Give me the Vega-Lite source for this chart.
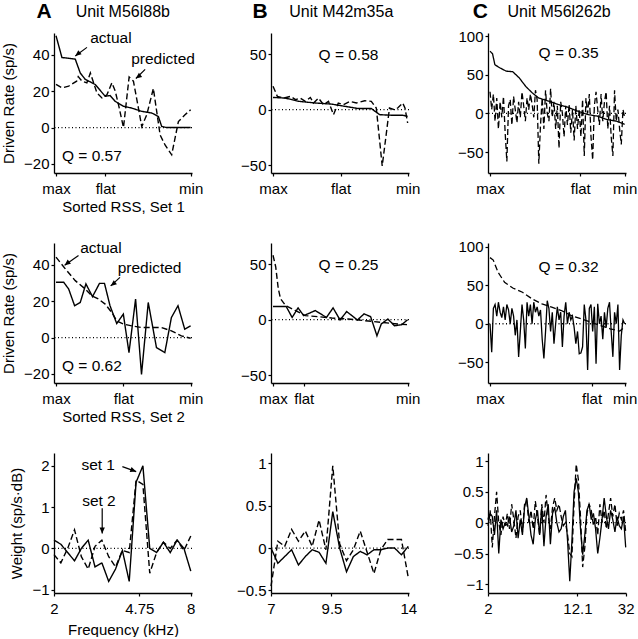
{
"$schema":"https://vega.github.io/schema/vega-lite/v6.json",
"padding":{"left":1,"top":0,"right":0,"bottom":0},
"bounds":"flush",
"columns":3,
"spacing":{"row":70,"column":79},
"config":{
 "font":"Liberation Sans",
 "view":{"stroke":null},
 "axis":{"grid":false,"domainColor":"#000","domainWidth":1.3,"tickColor":"#000","tickWidth":1.2,"tickSize":3,"labelColor":"#000","labelFontSize":15,"labelPadding":2,"titleColor":"#000","titleFontSize":15,"titleFontWeight":"normal","labelFont":"Liberation Sans","titleFont":"Liberation Sans","labelOverlap":false,"labelFlush":false},
 "axisX":{"labelPadding":5,"titlePadding":3},
 "axisY":{"titlePadding":7},
 "text":{"color":"#000","font":"Liberation Sans"},
 "line":{"color":"#000"},
 "rule":{"color":"#000"}
},
"datasets":{
 "a1":[{"r":0,"v":50.5,"s":"a"},{"r":4.4,"v":38.5,"s":"a"},{"r":10.6,"v":38,"s":"a"},{"r":14.3,"v":37.6,"s":"a"},{"r":18,"v":30,"s":"a"},{"r":21.7,"v":26.5,"s":"a"},{"r":29.1,"v":23.7,"s":"a"},{"r":36.5,"v":17.2,"s":"a"},{"r":40.2,"v":17.6,"s":"a"},{"r":44,"v":14.4,"s":"a"},{"r":50.1,"v":11.7,"s":"a"},{"r":56.3,"v":10.7,"s":"a"},{"r":63.7,"v":8.9,"s":"a"},{"r":71.1,"v":8,"s":"a"},{"r":76,"v":6.1,"s":"a"},{"r":78.5,"v":0.6,"s":"a"},{"r":82.2,"v":0,"s":"a"},{"r":100,"v":0,"s":"a"},
  {"r":0,"v":23.7,"s":"b"},{"r":4.4,"v":21.8,"s":"b"},{"r":9.4,"v":22.8,"s":"b"},{"r":15.3,"v":25.5,"s":"b"},{"r":16.5,"v":28,"s":"b"},{"r":19.3,"v":25.5,"s":"b"},{"r":22.9,"v":24.6,"s":"b"},{"r":25.5,"v":30,"s":"b"},{"r":30.4,"v":19,"s":"b"},{"r":34.1,"v":16.3,"s":"b"},{"r":37.8,"v":18,"s":"b"},{"r":41.5,"v":24.6,"s":"b"},{"r":44,"v":20,"s":"b"},{"r":46.4,"v":12.6,"s":"b"},{"r":50.1,"v":0,"s":"b"},{"r":54.3,"v":27.8,"s":"b"},{"r":57.5,"v":25.5,"s":"b"},{"r":61.2,"v":10.7,"s":"b"},{"r":63.7,"v":0.5,"s":"b"},{"r":67.4,"v":7,"s":"b"},{"r":72.3,"v":21.5,"s":"b"},{"r":77.3,"v":-4,"s":"b"},{"r":81,"v":-9.6,"s":"b"},{"r":85.9,"v":-15,"s":"b"},{"r":90.9,"v":3.3,"s":"b"},{"r":95.8,"v":7,"s":"b"},{"r":100,"v":9.8,"s":"b"}],
 "a1t":[{"r":25.4,"v":49,"t":"actual"},{"r":55.8,"v":37.6,"t":"predicted"},{"r":4.4,"v":-15.6,"t":"Q = 0.57"}],
 "a1r":[{"r":23,"v":44.1,"r2":14.3,"v2":39.4},{"r":66.2,"v":32,"r2":59.3,"v2":27}],
 "b1":[{"r":0,"v":11,"s":"a"},{"r":9.3,"v":10.4,"s":"a"},{"r":19.1,"v":7.5,"s":"a"},{"r":31.4,"v":6,"s":"a"},{"r":43.6,"v":5,"s":"a"},{"r":53.4,"v":3,"s":"a"},{"r":63.2,"v":1,"s":"a"},{"r":73,"v":1,"s":"a"},{"r":79.2,"v":-4.5,"s":"a"},{"r":87.7,"v":-5,"s":"a"},{"r":96.3,"v":-5,"s":"a"},{"r":100,"v":-6,"s":"a"},
  {"r":0,"v":21,"s":"b"},{"r":3.2,"v":12,"s":"b"},{"r":8.1,"v":10.4,"s":"b"},{"r":13,"v":12,"s":"b"},{"r":16.7,"v":9,"s":"b"},{"r":20.3,"v":10.4,"s":"b"},{"r":24,"v":7.5,"s":"b"},{"r":27.7,"v":11,"s":"b"},{"r":30.1,"v":6,"s":"b"},{"r":33.8,"v":10.4,"s":"b"},{"r":37.5,"v":4.5,"s":"b"},{"r":41.2,"v":7.5,"s":"b"},{"r":44.9,"v":-4.5,"s":"b"},{"r":48.5,"v":6,"s":"b"},{"r":52.2,"v":4.5,"s":"b"},{"r":57.1,"v":7.5,"s":"b"},{"r":62,"v":6,"s":"b"},{"r":68.1,"v":8,"s":"b"},{"r":73,"v":7.5,"s":"b"},{"r":76.7,"v":1.5,"s":"b"},{"r":79.2,"v":-28,"s":"b"},{"r":81.1,"v":-50.7,"s":"b"},{"r":84.1,"v":-22,"s":"b"},{"r":86.5,"v":1.5,"s":"b"},{"r":90.2,"v":0,"s":"b"},{"r":92.6,"v":1.5,"s":"b"},{"r":96.3,"v":6,"s":"b"},{"r":98,"v":1.5,"s":"b"},{"r":100,"v":-12,"s":"b"}],
 "c1":[{"r":0,"v":80.6,"s":"a"},{"r":1.9,"v":77,"s":"a"},{"r":3.6,"v":63,"s":"a"},{"r":7.2,"v":59,"s":"a"},{"r":12,"v":54.7,"s":"a"},{"r":16.9,"v":53.9,"s":"a"},{"r":21.7,"v":46,"s":"a"},{"r":26.5,"v":35,"s":"a"},{"r":31.3,"v":26.7,"s":"a"},{"r":36.1,"v":20,"s":"a"},{"r":43.4,"v":16,"s":"a"},{"r":50.6,"v":11.6,"s":"a"},{"r":57.8,"v":8,"s":"a"},{"r":65.1,"v":3,"s":"a"},{"r":72.3,"v":-1.3,"s":"a"},{"r":79.5,"v":-3.4,"s":"a"},{"r":86.7,"v":-7.8,"s":"a"},{"r":94,"v":-10,"s":"a"},{"r":100,"v":-14,"s":"a"},
  {"r":0,"v":28,"s":"b"},{"r":1.25,"v":5,"s":"b"},{"r":2.5,"v":25,"s":"b"},{"r":3.75,"v":-10,"s":"b"},{"r":5,"v":20,"s":"b"},{"r":6.25,"v":-20,"s":"b"},{"r":7.5,"v":15,"s":"b"},{"r":8.75,"v":-5,"s":"b"},{"r":10,"v":22,"s":"b"},{"r":11.25,"v":-25,"s":"b"},{"r":12.5,"v":-62,"s":"b"},{"r":13.75,"v":10,"s":"b"},{"r":15,"v":18,"s":"b"},{"r":16.25,"v":-15,"s":"b"},{"r":17.5,"v":22,"s":"b"},{"r":18.75,"v":5,"s":"b"},{"r":20,"v":-12,"s":"b"},{"r":21.25,"v":15,"s":"b"},{"r":22.5,"v":-5,"s":"b"},{"r":23.75,"v":28,"s":"b"},{"r":25,"v":10,"s":"b"},{"r":26.25,"v":-10,"s":"b"},{"r":27.5,"v":20,"s":"b"},{"r":28.75,"v":5,"s":"b"},{"r":30,"v":25,"s":"b"},{"r":31.25,"v":12,"s":"b"},{"r":32.5,"v":-5,"s":"b"},{"r":33.75,"v":30,"s":"b"},{"r":35,"v":18,"s":"b"},{"r":36.25,"v":-65,"s":"b"},{"r":37.5,"v":-15,"s":"b"},{"r":38.75,"v":20,"s":"b"},{"r":40,"v":-20,"s":"b"},{"r":41.25,"v":30,"s":"b"},{"r":42.5,"v":0,"s":"b"},{"r":43.75,"v":-10,"s":"b"},{"r":45,"v":32,"s":"b"},{"r":46.25,"v":-5,"s":"b"},{"r":47.5,"v":15,"s":"b"},{"r":48.75,"v":-20,"s":"b"},{"r":50,"v":10,"s":"b"},{"r":51.25,"v":-45,"s":"b"},{"r":52.5,"v":15,"s":"b"},{"r":53.75,"v":0,"s":"b"},{"r":55,"v":-30,"s":"b"},{"r":56.25,"v":10,"s":"b"},{"r":57.5,"v":-15,"s":"b"},{"r":58.75,"v":12,"s":"b"},{"r":60,"v":-25,"s":"b"},{"r":61.25,"v":5,"s":"b"},{"r":62.5,"v":-35,"s":"b"},{"r":63.75,"v":10,"s":"b"},{"r":65,"v":-20,"s":"b"},{"r":66.25,"v":5,"s":"b"},{"r":67.5,"v":-30,"s":"b"},{"r":68.75,"v":18,"s":"b"},{"r":70,"v":-55,"s":"b"},{"r":71.25,"v":20,"s":"b"},{"r":72.5,"v":0,"s":"b"},{"r":73.75,"v":25,"s":"b"},{"r":75,"v":-30,"s":"b"},{"r":76.25,"v":-60,"s":"b"},{"r":77.5,"v":10,"s":"b"},{"r":78.75,"v":28,"s":"b"},{"r":80,"v":5,"s":"b"},{"r":81.25,"v":-15,"s":"b"},{"r":82.5,"v":25,"s":"b"},{"r":83.75,"v":-10,"s":"b"},{"r":85,"v":15,"s":"b"},{"r":86.25,"v":28,"s":"b"},{"r":87.5,"v":-20,"s":"b"},{"r":88.75,"v":10,"s":"b"},{"r":90,"v":-30,"s":"b"},{"r":91.25,"v":-55,"s":"b"},{"r":92.5,"v":30,"s":"b"},{"r":93.75,"v":-10,"s":"b"},{"r":95,"v":5,"s":"b"},{"r":96.25,"v":-20,"s":"b"},{"r":97.5,"v":-40,"s":"b"},{"r":98.75,"v":5,"s":"b"},{"r":100,"v":-5,"s":"b"}],
 "a2":[{"r":0,"v":44.2,"s":"b"},{"r":6.9,"v":37.8,"s":"b"},{"r":14.3,"v":31.3,"s":"b"},{"r":21.7,"v":26.7,"s":"b"},{"r":26.6,"v":23,"s":"b"},{"r":31.5,"v":21.2,"s":"b"},{"r":36.5,"v":18.4,"s":"b"},{"r":41.4,"v":13.8,"s":"b"},{"r":45.1,"v":9.2,"s":"b"},{"r":50,"v":7.4,"s":"b"},{"r":56.2,"v":6.4,"s":"b"},{"r":63.5,"v":5.5,"s":"b"},{"r":70.9,"v":5.5,"s":"b"},{"r":78.3,"v":5.5,"s":"b"},{"r":85.7,"v":3.7,"s":"b"},{"r":93.1,"v":0.9,"s":"b"},{"r":100,"v":-0.4,"s":"b"},
  {"r":0,"v":30.4,"s":"a"},{"r":5.7,"v":30.4,"s":"a"},{"r":9.4,"v":26.7,"s":"a"},{"r":13.8,"v":17.5,"s":"a"},{"r":18,"v":19.3,"s":"a"},{"r":22.2,"v":29.5,"s":"a"},{"r":27.1,"v":22.5,"s":"a"},{"r":32.3,"v":29.8,"s":"a"},{"r":36,"v":29.8,"s":"a"},{"r":40.1,"v":17.5,"s":"a"},{"r":45.1,"v":7.7,"s":"a"},{"r":50,"v":12.9,"s":"a"},{"r":54.2,"v":-8.3,"s":"a"},{"r":59.1,"v":21.2,"s":"a"},{"r":63.5,"v":-20.3,"s":"a"},{"r":68.5,"v":19.3,"s":"a"},{"r":74.6,"v":-5.5,"s":"a"},{"r":80.8,"v":-8.3,"s":"a"},{"r":85.7,"v":11,"s":"a"},{"r":90.6,"v":17.5,"s":"a"},{"r":95.6,"v":4.6,"s":"a"},{"r":100,"v":6.4,"s":"a"}],
 "a2t":[{"r":18,"v":49.4,"t":"actual"},{"r":45.8,"v":38.3,"t":"predicted"},{"r":4.4,"v":-15.6,"t":"Q = 0.62"}],
 "a2r":[{"r":16.7,"v":45.1,"r2":6.4,"v2":39.8},{"r":47.5,"v":33.1,"r2":40.6,"v2":28.4}],
 "b2":[{"r":0,"v":58,"s":"b"},{"r":2,"v":47.6,"s":"b"},{"r":3.9,"v":27.9,"s":"b"},{"r":5.6,"v":18.8,"s":"b"},{"r":9.3,"v":12.7,"s":"b"},{"r":16.7,"v":8.2,"s":"b"},{"r":24,"v":3.6,"s":"b"},{"r":33.8,"v":2.7,"s":"b"},{"r":43.6,"v":1.5,"s":"b"},{"r":55.9,"v":0.6,"s":"b"},{"r":68.1,"v":-0.9,"s":"b"},{"r":80.4,"v":-2.4,"s":"b"},{"r":92.6,"v":-3.9,"s":"b"},{"r":100,"v":-4.5,"s":"b"},
  {"r":0,"v":11.8,"s":"a"},{"r":9.8,"v":11.8,"s":"a"},{"r":14.2,"v":2,"s":"a"},{"r":18.6,"v":10.6,"s":"a"},{"r":22.8,"v":3.6,"s":"a"},{"r":31.4,"v":8.2,"s":"a"},{"r":39.7,"v":2,"s":"a"},{"r":44.6,"v":10.6,"s":"a"},{"r":49.8,"v":-0.3,"s":"a"},{"r":54.7,"v":7.3,"s":"a"},{"r":62.7,"v":-0.3,"s":"a"},{"r":67.6,"v":5.2,"s":"a"},{"r":72.5,"v":2.7,"s":"a"},{"r":77.2,"v":-14.5,"s":"a"},{"r":80.4,"v":-3.9,"s":"a"},{"r":85.3,"v":0.6,"s":"a"},{"r":90.2,"v":-5.5,"s":"a"},{"r":95.6,"v":-4.5,"s":"a"},{"r":100,"v":0,"s":"a"}],
 "c2":[{"r":0,"v":86,"s":"b"},{"r":2.4,"v":82.8,"s":"b"},{"r":6,"v":66.8,"s":"b"},{"r":10.8,"v":54,"s":"b"},{"r":16.9,"v":46.5,"s":"b"},{"r":24.1,"v":41,"s":"b"},{"r":31.3,"v":32.3,"s":"b"},{"r":38.6,"v":25.9,"s":"b"},{"r":45.8,"v":21.6,"s":"b"},{"r":53,"v":17.2,"s":"b"},{"r":60.2,"v":10.8,"s":"b"},{"r":67.5,"v":6.5,"s":"b"},{"r":74.7,"v":2.2,"s":"b"},{"r":81.9,"v":-2.2,"s":"b"},{"r":89.2,"v":-6.5,"s":"b"},{"r":96.4,"v":-9.5,"s":"b"},{"r":100,"v":-4.3,"s":"b"},
  {"r":0,"v":0,"s":"a"},{"r":1.25,"v":-37,"s":"a"},{"r":2.5,"v":20,"s":"a"},{"r":3.75,"v":25,"s":"a"},{"r":5,"v":10,"s":"a"},{"r":6.25,"v":28,"s":"a"},{"r":7.5,"v":15,"s":"a"},{"r":8.75,"v":8,"s":"a"},{"r":10,"v":22,"s":"a"},{"r":11.25,"v":5,"s":"a"},{"r":12.5,"v":25,"s":"a"},{"r":13.75,"v":18,"s":"a"},{"r":15,"v":0,"s":"a"},{"r":16.25,"v":20,"s":"a"},{"r":17.5,"v":10,"s":"a"},{"r":18.75,"v":-15,"s":"a"},{"r":20,"v":5,"s":"a"},{"r":21.25,"v":-43,"s":"a"},{"r":22.5,"v":-10,"s":"a"},{"r":23.75,"v":25,"s":"a"},{"r":25,"v":5,"s":"a"},{"r":26.25,"v":-32,"s":"a"},{"r":27.5,"v":28,"s":"a"},{"r":28.75,"v":10,"s":"a"},{"r":30,"v":25,"s":"a"},{"r":31.25,"v":0,"s":"a"},{"r":32.5,"v":28,"s":"a"},{"r":33.75,"v":15,"s":"a"},{"r":35,"v":22,"s":"a"},{"r":36.25,"v":10,"s":"a"},{"r":37.5,"v":18,"s":"a"},{"r":38.75,"v":-20,"s":"a"},{"r":40,"v":-45,"s":"a"},{"r":41.25,"v":-10,"s":"a"},{"r":42.5,"v":30,"s":"a"},{"r":43.75,"v":20,"s":"a"},{"r":45,"v":-10,"s":"a"},{"r":46.25,"v":15,"s":"a"},{"r":47.5,"v":-26,"s":"a"},{"r":48.75,"v":0,"s":"a"},{"r":50,"v":22,"s":"a"},{"r":51.25,"v":5,"s":"a"},{"r":52.5,"v":15,"s":"a"},{"r":53.75,"v":-30,"s":"a"},{"r":55,"v":10,"s":"a"},{"r":56.25,"v":28,"s":"a"},{"r":57.5,"v":0,"s":"a"},{"r":58.75,"v":15,"s":"a"},{"r":60,"v":5,"s":"a"},{"r":61.25,"v":10,"s":"a"},{"r":62.5,"v":-5,"s":"a"},{"r":63.75,"v":-26,"s":"a"},{"r":65,"v":-10,"s":"a"},{"r":66.25,"v":-39,"s":"a"},{"r":67.5,"v":-38,"s":"a"},{"r":68.75,"v":-30,"s":"a"},{"r":70,"v":25,"s":"a"},{"r":71.25,"v":5,"s":"a"},{"r":72.5,"v":-60,"s":"a"},{"r":73.75,"v":20,"s":"a"},{"r":75,"v":25,"s":"a"},{"r":76.25,"v":-10,"s":"a"},{"r":77.5,"v":22,"s":"a"},{"r":78.75,"v":-52,"s":"a"},{"r":80,"v":26,"s":"a"},{"r":81.25,"v":0,"s":"a"},{"r":82.5,"v":10,"s":"a"},{"r":83.75,"v":-20,"s":"a"},{"r":85,"v":15,"s":"a"},{"r":86.25,"v":-5,"s":"a"},{"r":87.5,"v":20,"s":"a"},{"r":88.75,"v":28,"s":"a"},{"r":90,"v":-10,"s":"a"},{"r":91.25,"v":-43,"s":"a"},{"r":92.5,"v":15,"s":"a"},{"r":93.75,"v":0,"s":"a"},{"r":95,"v":25,"s":"a"},{"r":96.25,"v":-60,"s":"a"},{"r":97.5,"v":-15,"s":"a"},{"r":98.75,"v":5,"s":"a"},{"r":100,"v":0,"s":"a"}],
 "a3":[{"f":2,"v":0.2,"s":"a"},{"f":2.1435,"v":0.1,"s":"a"},{"f":2.2974,"v":-0.1,"s":"a"},{"f":2.4623,"v":-0.3,"s":"a"},{"f":2.639,"v":0,"s":"a"},{"f":2.8284,"v":0.2,"s":"a"},{"f":3.0314,"v":-0.45,"s":"a"},{"f":3.249,"v":-0.35,"s":"a"},{"f":3.4822,"v":-0.8,"s":"a"},{"f":3.7321,"v":-0.5,"s":"a"},{"f":4,"v":-0.05,"s":"a"},{"f":4.2871,"v":-0.8,"s":"a"},{"f":4.5948,"v":1.6,"s":"a"},{"f":4.9246,"v":2,"s":"a"},{"f":5.278,"v":0,"s":"a"},{"f":5.6569,"v":-0.1,"s":"a"},{"f":6.0629,"v":0.15,"s":"a"},{"f":6.498,"v":-0.1,"s":"a"},{"f":6.9644,"v":0.2,"s":"a"},{"f":7.4643,"v":0,"s":"a"},{"f":8,"v":-0.55,"s":"a"},
  {"f":2,"v":-0.15,"s":"b"},{"f":2.1435,"v":-0.35,"s":"b"},{"f":2.2974,"v":0,"s":"b"},{"f":2.4623,"v":0.45,"s":"b"},{"f":2.639,"v":-0.2,"s":"b"},{"f":2.8284,"v":-0.5,"s":"b"},{"f":3.0314,"v":0.05,"s":"b"},{"f":3.249,"v":0.2,"s":"b"},{"f":3.4822,"v":-0.2,"s":"b"},{"f":3.7321,"v":-0.45,"s":"b"},{"f":4,"v":-0.05,"s":"b"},{"f":4.2871,"v":-0.1,"s":"b"},{"f":4.5948,"v":1.65,"s":"b"},{"f":4.9246,"v":1.55,"s":"b"},{"f":5.278,"v":-0.6,"s":"b"},{"f":5.6569,"v":-0.1,"s":"b"},{"f":6.0629,"v":0.15,"s":"b"},{"f":6.498,"v":0,"s":"b"},{"f":6.9644,"v":0.2,"s":"b"},{"f":7.4643,"v":-0.05,"s":"b"},{"f":8,"v":0.3,"s":"b"}],
 "a3t":[{"f":2.64,"v":2.02,"t":"set 1"},{"f":2.66,"v":1.14,"t":"set 2"}],
 "b3":[{"f":7,"v":0,"s":"a"},{"f":7.2468,"v":-0.18,"s":"a"},{"f":7.5024,"v":-0.1,"s":"a"},{"f":7.767,"v":-0.02,"s":"a"},{"f":8.0409,"v":-0.2,"s":"a"},{"f":8.3245,"v":-0.1,"s":"a"},{"f":8.618,"v":-0.02,"s":"a"},{"f":8.9219,"v":-0.05,"s":"a"},{"f":9.2366,"v":-0.18,"s":"a"},{"f":9.5623,"v":0.43,"s":"a"},{"f":9.8995,"v":0,"s":"a"},{"f":10.2486,"v":-0.28,"s":"a"},{"f":10.61,"v":-0.1,"s":"a"},{"f":10.984,"v":-0.04,"s":"a"},{"f":11.3715,"v":-0.08,"s":"a"},{"f":11.7725,"v":-0.02,"s":"a"},{"f":12.1877,"v":-0.02,"s":"a"},{"f":12.6175,"v":0,"s":"a"},{"f":13.0625,"v":0,"s":"a"},{"f":13.5231,"v":-0.08,"s":"a"},{"f":14,"v":0.02,"s":"a"},
  {"f":7,"v":-0.45,"s":"b"},{"f":7.2468,"v":0.08,"s":"b"},{"f":7.5024,"v":0.02,"s":"b"},{"f":7.767,"v":0.22,"s":"b"},{"f":8.0409,"v":0.08,"s":"b"},{"f":8.3245,"v":0.2,"s":"b"},{"f":8.618,"v":0.02,"s":"b"},{"f":8.9219,"v":0.33,"s":"b"},{"f":9.2366,"v":-0.02,"s":"b"},{"f":9.5623,"v":0.97,"s":"b"},{"f":9.8995,"v":0.05,"s":"b"},{"f":10.2486,"v":-0.15,"s":"b"},{"f":10.61,"v":-0.02,"s":"b"},{"f":10.984,"v":0.2,"s":"b"},{"f":11.3715,"v":-0.05,"s":"b"},{"f":11.7725,"v":-0.3,"s":"b"},{"f":12.1877,"v":-0.02,"s":"b"},{"f":12.6175,"v":0.1,"s":"b"},{"f":13.0625,"v":0.1,"s":"b"},{"f":13.5231,"v":0.1,"s":"b"},{"f":14,"v":-0.35,"s":"b"}],
 "c3":[{"f":2,"v":-0.05,"s":"a"},{"f":2.0885,"v":0.15,"s":"a"},{"f":2.181,"v":0.1,"s":"a"},{"f":2.2776,"v":-0.2,"s":"a"},{"f":2.3784,"v":0.2,"s":"a"},{"f":2.4837,"v":-0.5,"s":"a"},{"f":2.5937,"v":0.05,"s":"a"},{"f":2.7085,"v":-0.1,"s":"a"},{"f":2.8284,"v":0,"s":"a"},{"f":2.9537,"v":-0.05,"s":"a"},{"f":3.0844,"v":0.1,"s":"a"},{"f":3.221,"v":-0.15,"s":"a"},{"f":3.3636,"v":-0.05,"s":"a"},{"f":3.5125,"v":0.2,"s":"a"},{"f":3.668,"v":-0.25,"s":"a"},{"f":3.8304,"v":0.05,"s":"a"},{"f":4,"v":-0.2,"s":"a"},{"f":4.1771,"v":0.25,"s":"a"},{"f":4.362,"v":0.4,"s":"a"},{"f":4.5552,"v":0.1,"s":"a"},{"f":4.7568,"v":-0.2,"s":"a"},{"f":4.9674,"v":-0.35,"s":"a"},{"f":5.1874,"v":0.05,"s":"a"},{"f":5.417,"v":0.2,"s":"a"},{"f":5.6569,"v":-0.2,"s":"a"},{"f":5.9073,"v":0.25,"s":"a"},{"f":6.1688,"v":-0.38,"s":"a"},{"f":6.442,"v":0.1,"s":"a"},{"f":6.7272,"v":0.3,"s":"a"},{"f":7.025,"v":-0.35,"s":"a"},{"f":7.336,"v":0.15,"s":"a"},{"f":7.6608,"v":0.25,"s":"a"},{"f":8,"v":0,"s":"a"},{"f":8.3542,"v":-0.15,"s":"a"},{"f":8.7241,"v":-0.1,"s":"a"},{"f":9.1103,"v":0.1,"s":"a"},{"f":9.5137,"v":0.2,"s":"a"},{"f":9.9349,"v":-0.3,"s":"a"},{"f":10.3747,"v":-0.95,"s":"a"},{"f":10.8341,"v":-0.3,"s":"a"},{"f":11.3137,"v":0.5,"s":"a"},{"f":11.8146,"v":0.72,"s":"a"},{"f":12.3377,"v":0.5,"s":"a"},{"f":12.8839,"v":-0.1,"s":"a"},{"f":13.4543,"v":-0.52,"s":"a"},{"f":14.05,"v":-0.2,"s":"a"},{"f":14.672,"v":0.2,"s":"a"},{"f":15.3216,"v":0.3,"s":"a"},{"f":16,"v":0.05,"s":"a"},{"f":16.708,"v":0.15,"s":"a"},{"f":17.448,"v":-0.1,"s":"a"},{"f":18.221,"v":-0.5,"s":"a"},{"f":19.027,"v":-0.25,"s":"a"},{"f":19.87,"v":0.05,"s":"a"},{"f":20.749,"v":0.4,"s":"a"},{"f":21.668,"v":0.1,"s":"a"},{"f":22.627,"v":-0.1,"s":"a"},{"f":23.629,"v":0.2,"s":"a"},{"f":24.675,"v":0.05,"s":"a"},{"f":25.768,"v":-0.15,"s":"a"},{"f":26.909,"v":0.1,"s":"a"},{"f":28.1,"v":-0.05,"s":"a"},{"f":29.344,"v":-0.1,"s":"a"},{"f":30.643,"v":0.1,"s":"a"},{"f":32,"v":-0.4,"s":"a"},
  {"f":2,"v":0.05,"s":"b"},{"f":2.0885,"v":0.2,"s":"b"},{"f":2.181,"v":-0.4,"s":"b"},{"f":2.2776,"v":0.1,"s":"b"},{"f":2.3784,"v":0.5,"s":"b"},{"f":2.4837,"v":0,"s":"b"},{"f":2.5937,"v":-0.2,"s":"b"},{"f":2.7085,"v":0.1,"s":"b"},{"f":2.8284,"v":-0.05,"s":"b"},{"f":2.9537,"v":0.15,"s":"b"},{"f":3.0844,"v":-0.1,"s":"b"},{"f":3.221,"v":0.3,"s":"b"},{"f":3.3636,"v":0.05,"s":"b"},{"f":3.5125,"v":-0.25,"s":"b"},{"f":3.668,"v":0.1,"s":"b"},{"f":3.8304,"v":0.2,"s":"b"},{"f":4,"v":-0.15,"s":"b"},{"f":4.1771,"v":0.3,"s":"b"},{"f":4.362,"v":0.35,"s":"b"},{"f":4.5552,"v":0,"s":"b"},{"f":4.7568,"v":0.2,"s":"b"},{"f":4.9674,"v":-0.1,"s":"b"},{"f":5.1874,"v":0.35,"s":"b"},{"f":5.417,"v":0.1,"s":"b"},{"f":5.6569,"v":-0.2,"s":"b"},{"f":5.9073,"v":0.3,"s":"b"},{"f":6.1688,"v":0,"s":"b"},{"f":6.442,"v":0.45,"s":"b"},{"f":6.7272,"v":0.1,"s":"b"},{"f":7.025,"v":-0.1,"s":"b"},{"f":7.336,"v":0.25,"s":"b"},{"f":7.6608,"v":0.4,"s":"b"},{"f":8,"v":0.2,"s":"b"},{"f":8.3542,"v":0.3,"s":"b"},{"f":8.7241,"v":0.1,"s":"b"},{"f":9.1103,"v":-0.05,"s":"b"},{"f":9.5137,"v":0,"s":"b"},{"f":9.9349,"v":-0.2,"s":"b"},{"f":10.3747,"v":-0.5,"s":"b"},{"f":10.8341,"v":-0.55,"s":"b"},{"f":11.3137,"v":0.3,"s":"b"},{"f":11.8146,"v":0.95,"s":"b"},{"f":12.3377,"v":0.7,"s":"b"},{"f":12.8839,"v":0.1,"s":"b"},{"f":13.4543,"v":-0.72,"s":"b"},{"f":14.05,"v":-0.4,"s":"b"},{"f":14.672,"v":0.15,"s":"b"},{"f":15.3216,"v":0.3,"s":"b"},{"f":16,"v":0.2,"s":"b"},{"f":16.708,"v":-0.05,"s":"b"},{"f":17.448,"v":0.1,"s":"b"},{"f":18.221,"v":-0.2,"s":"b"},{"f":19.027,"v":0.3,"s":"b"},{"f":19.87,"v":0,"s":"b"},{"f":20.749,"v":0.2,"s":"b"},{"f":21.668,"v":-0.1,"s":"b"},{"f":22.627,"v":0.15,"s":"b"},{"f":23.629,"v":0.4,"s":"b"},{"f":24.675,"v":0.1,"s":"b"},{"f":25.768,"v":0.3,"s":"b"},{"f":26.909,"v":-0.05,"s":"b"},{"f":28.1,"v":0.15,"s":"b"},{"f":29.344,"v":0.05,"s":"b"},{"f":30.643,"v":0.2,"s":"b"},{"f":32,"v":-0.15,"s":"b"}]
},
"concat":[
 {"width":138,"height":140,
  "layer":[
   {"data":{"values":[{}]},"mark":{"type":"rule","strokeDash":[1,2.5],"strokeWidth":1.3},"encoding":{"y":{"datum":0,"type":"quantitative","scale":{"domain":[-25,52],"nice":false,"zero":false},"axis":{"values":[-20,0,20,40],"format":"~r","title":"Driven Rate (sp/s)"}}}},
   {"data":{"name":"a1"},"mark":{"type":"line","strokeWidth":1.4},"encoding":{
     "x":{"field":"r","type":"quantitative","scale":{"domain":[-1.5,101],"nice":false,"zero":false},"axis":{"values":[0,36.5,100],"labelExpr":"datum.value == 0 ? 'max' : (datum.value == 100 ? 'min' : 'flat')","title":"Sorted RSS, Set 1"}},
     "y":{"field":"v","type":"quantitative","scale":{"domain":[-25,52],"nice":false,"zero":false},"axis":{"values":[-20,0,20,40],"format":"~r","title":"Driven Rate (sp/s)"}},
     "strokeDash":{"field":"s","type":"nominal","scale":{"domain":["a","b"],"range":[[1,0],[6,3]]},"legend":null}}},
   {"data":{"name":"a1t"},"mark":{"type":"text","align":"left","baseline":"middle","fontSize":15.5},"encoding":{
     "x":{"field":"r","type":"quantitative","axis":{"values":[0,36.5,100],"labelExpr":"datum.value == 0 ? 'max' : (datum.value == 100 ? 'min' : 'flat')","title":"Sorted RSS, Set 1"}},
     "y":{"field":"v","type":"quantitative","axis":{"values":[-20,0,20,40],"format":"~r","title":"Driven Rate (sp/s)"}},"text":{"field":"t"}}},
   {"data":{"values":[{"r":-8.9,"v":63.5,"t":"A"}]},"mark":{"type":"text","fontSize":21,"fontWeight":"bold","baseline":"middle"},"encoding":{
     "x":{"field":"r","type":"quantitative","axis":{"values":[0,36.5,100],"labelExpr":"datum.value == 0 ? 'max' : (datum.value == 100 ? 'min' : 'flat')","title":"Sorted RSS, Set 1"}},
     "y":{"field":"v","type":"quantitative","axis":{"values":[-20,0,20,40],"format":"~r","title":"Driven Rate (sp/s)"}},"text":{"field":"t"}}},
   {"data":{"values":[{"r":49.6,"v":63.5,"t":"Unit M56l88b"}]},"mark":{"type":"text","fontSize":16,"baseline":"middle"},"encoding":{
     "x":{"field":"r","type":"quantitative","axis":{"values":[0,36.5,100],"labelExpr":"datum.value == 0 ? 'max' : (datum.value == 100 ? 'min' : 'flat')","title":"Sorted RSS, Set 1"}},
     "y":{"field":"v","type":"quantitative","axis":{"values":[-20,0,20,40],"format":"~r","title":"Driven Rate (sp/s)"}},"text":{"field":"t"}}},
   {"data":{"name":"a1r"},"mark":{"type":"rule","strokeWidth":1.2},"encoding":{
     "x":{"field":"r","type":"quantitative","axis":{"values":[0,36.5,100],"labelExpr":"datum.value == 0 ? 'max' : (datum.value == 100 ? 'min' : 'flat')","title":"Sorted RSS, Set 1"}},
     "y":{"field":"v","type":"quantitative","axis":{"values":[-20,0,20,40],"format":"~r","title":"Driven Rate (sp/s)"}},"x2":{"field":"r2"},"y2":{"field":"v2"}}},
   {"data":{"name":"a1r"},"mark":{"type":"point","shape":"M0,0L-0.45,1L0.45,1Z","filled":true,"size":140,"opacity":1,"angle":232,"color":"#000"},"encoding":{
     "x":{"field":"r2","type":"quantitative","axis":{"values":[0,36.5,100],"labelExpr":"datum.value == 0 ? 'max' : (datum.value == 100 ? 'min' : 'flat')","title":"Sorted RSS, Set 1"}},
     "y":{"field":"v2","type":"quantitative","axis":{"values":[-20,0,20,40],"format":"~r","title":"Driven Rate (sp/s)"}}}}
  ]},
 {"width":138,"height":140,
  "layer":[
   {"data":{"values":[{}]},"mark":{"type":"rule","strokeDash":[1,2.5],"strokeWidth":1.3},"encoding":{"y":{"datum":0,"type":"quantitative","scale":{"domain":[-57,69],"nice":false,"zero":false},"axis":{"values":[-50,0,50],"format":"~r","title":null}}}},
   {"data":{"name":"b1"},"mark":{"type":"line","strokeWidth":1.4},"encoding":{
     "x":{"field":"r","type":"quantitative","scale":{"domain":[-1.5,101],"nice":false,"zero":false},"axis":{"values":[0,50.2,100],"labelExpr":"datum.value == 0 ? 'max' : (datum.value == 100 ? 'min' : 'flat')","title":null}},
     "y":{"field":"v","type":"quantitative","scale":{"domain":[-57,69],"nice":false,"zero":false},"axis":{"values":[-50,0,50],"format":"~r","title":null}},
     "strokeDash":{"field":"s","type":"nominal","scale":{"domain":["a","b"],"range":[[1,0],[6,3]]},"legend":null}}},
   {"data":{"values":[{"r":33.8,"v":49.3,"t":"Q = 0.58"}]},"mark":{"type":"text","align":"left","baseline":"middle","fontSize":15.5},"encoding":{
     "x":{"field":"r","type":"quantitative","axis":{"values":[0,50.2,100],"labelExpr":"datum.value == 0 ? 'max' : (datum.value == 100 ? 'min' : 'flat')","title":null}},
     "y":{"field":"v","type":"quantitative","axis":{"values":[-50,0,50],"format":"~r","title":null}},"text":{"field":"t"}}},
   {"data":{"values":[{"r":-9.6,"v":88,"t":"B"}]},"mark":{"type":"text","fontSize":21,"fontWeight":"bold","baseline":"middle"},"encoding":{
     "x":{"field":"r","type":"quantitative","axis":{"values":[0,50.2,100],"labelExpr":"datum.value == 0 ? 'max' : (datum.value == 100 ? 'min' : 'flat')","title":null}},
     "y":{"field":"v","type":"quantitative","axis":{"values":[-50,0,50],"format":"~r","title":null}},"text":{"field":"t"}}},
   {"data":{"values":[{"r":50.7,"v":88,"t":"Unit M42m35a"}]},"mark":{"type":"text","fontSize":16,"baseline":"middle"},"encoding":{
     "x":{"field":"r","type":"quantitative","axis":{"values":[0,50.2,100],"labelExpr":"datum.value == 0 ? 'max' : (datum.value == 100 ? 'min' : 'flat')","title":null}},
     "y":{"field":"v","type":"quantitative","axis":{"values":[-50,0,50],"format":"~r","title":null}},"text":{"field":"t"}}}
  ]},
 {"width":138,"height":140,
  "layer":[
   {"data":{"values":[{}]},"mark":{"type":"rule","strokeDash":[1,2.5],"strokeWidth":1.3},"encoding":{"y":{"datum":0,"type":"quantitative","scale":{"domain":[-77,104],"nice":false,"zero":false},"axis":{"values":[-50,0,50,100],"format":"~r","title":null}}}},
   {"data":{"name":"c1"},"mark":{"type":"line","strokeWidth":1.3},"encoding":{
     "x":{"field":"r","type":"quantitative","scale":{"domain":[-1.5,101],"nice":false,"zero":false},"axis":{"values":[0,67,100],"labelExpr":"datum.value == 0 ? 'max' : (datum.value == 100 ? 'min' : 'flat')","title":null}},
     "y":{"field":"v","type":"quantitative","scale":{"domain":[-77,104],"nice":false,"zero":false},"axis":{"values":[-50,0,50,100],"format":"~r","title":null}},
     "strokeDash":{"field":"s","type":"nominal","scale":{"domain":["a","b"],"range":[[1,0],[6,3]]},"legend":null}}},
   {"data":{"values":[{"r":36.1,"v":78.4,"t":"Q = 0.35"}]},"mark":{"type":"text","align":"left","baseline":"middle","fontSize":15.5},"encoding":{
     "x":{"field":"r","type":"quantitative","axis":{"values":[0,67,100],"labelExpr":"datum.value == 0 ? 'max' : (datum.value == 100 ? 'min' : 'flat')","title":null}},
     "y":{"field":"v","type":"quantitative","axis":{"values":[-50,0,50,100],"format":"~r","title":null}},"text":{"field":"t"}}},
   {"data":{"values":[{"r":-7.2,"v":131,"t":"C"}]},"mark":{"type":"text","fontSize":21,"fontWeight":"bold","baseline":"middle"},"encoding":{
     "x":{"field":"r","type":"quantitative","axis":{"values":[0,67,100],"labelExpr":"datum.value == 0 ? 'max' : (datum.value == 100 ? 'min' : 'flat')","title":null}},
     "y":{"field":"v","type":"quantitative","axis":{"values":[-50,0,50,100],"format":"~r","title":null}},"text":{"field":"t"}}},
   {"data":{"values":[{"r":51.3,"v":131,"t":"Unit M56l262b"}]},"mark":{"type":"text","fontSize":16,"baseline":"middle"},"encoding":{
     "x":{"field":"r","type":"quantitative","axis":{"values":[0,67,100],"labelExpr":"datum.value == 0 ? 'max' : (datum.value == 100 ? 'min' : 'flat')","title":null}},
     "y":{"field":"v","type":"quantitative","axis":{"values":[-50,0,50,100],"format":"~r","title":null}},"text":{"field":"t"}}}
  ]},
 {"width":138,"height":140,
  "layer":[
   {"data":{"values":[{}]},"mark":{"type":"rule","strokeDash":[1,2.5],"strokeWidth":1.3},"encoding":{"y":{"datum":0,"type":"quantitative","scale":{"domain":[-25,52],"nice":false,"zero":false},"axis":{"values":[-20,0,20,40],"format":"~r","title":"Driven Rate (sp/s)"}}}},
   {"data":{"name":"a2"},"mark":{"type":"line","strokeWidth":1.4},"encoding":{
     "x":{"field":"r","type":"quantitative","scale":{"domain":[-1.5,101],"nice":false,"zero":false},"axis":{"values":[0,50,100],"labelExpr":"datum.value == 0 ? 'max' : (datum.value == 100 ? 'min' : 'flat')","title":"Sorted RSS, Set 2"}},
     "y":{"field":"v","type":"quantitative","scale":{"domain":[-25,52],"nice":false,"zero":false},"axis":{"values":[-20,0,20,40],"format":"~r","title":"Driven Rate (sp/s)"}},
     "strokeDash":{"field":"s","type":"nominal","scale":{"domain":["a","b"],"range":[[1,0],[6,3]]},"legend":null}}},
   {"data":{"name":"a2t"},"mark":{"type":"text","align":"left","baseline":"middle","fontSize":15.5},"encoding":{
     "x":{"field":"r","type":"quantitative","axis":{"values":[0,50,100],"labelExpr":"datum.value == 0 ? 'max' : (datum.value == 100 ? 'min' : 'flat')","title":"Sorted RSS, Set 2"}},
     "y":{"field":"v","type":"quantitative","axis":{"values":[-20,0,20,40],"format":"~r","title":"Driven Rate (sp/s)"}},"text":{"field":"t"}}},
   {"data":{"name":"a2r"},"mark":{"type":"rule","strokeWidth":1.2},"encoding":{
     "x":{"field":"r","type":"quantitative","axis":{"values":[0,50,100],"labelExpr":"datum.value == 0 ? 'max' : (datum.value == 100 ? 'min' : 'flat')","title":"Sorted RSS, Set 2"}},
     "y":{"field":"v","type":"quantitative","axis":{"values":[-20,0,20,40],"format":"~r","title":"Driven Rate (sp/s)"}},"x2":{"field":"r2"},"y2":{"field":"v2"}}},
   {"data":{"name":"a2r"},"mark":{"type":"point","shape":"M0,0L-0.45,1L0.45,1Z","filled":true,"size":140,"opacity":1,"angle":232,"color":"#000"},"encoding":{
     "x":{"field":"r2","type":"quantitative","axis":{"values":[0,50,100],"labelExpr":"datum.value == 0 ? 'max' : (datum.value == 100 ? 'min' : 'flat')","title":"Sorted RSS, Set 2"}},
     "y":{"field":"v2","type":"quantitative","axis":{"values":[-20,0,20,40],"format":"~r","title":"Driven Rate (sp/s)"}}}}
  ]},
 {"width":138,"height":140,
  "layer":[
   {"data":{"values":[{}]},"mark":{"type":"rule","strokeDash":[1,2.5],"strokeWidth":1.3},"encoding":{"y":{"datum":0,"type":"quantitative","scale":{"domain":[-57,69],"nice":false,"zero":false},"axis":{"values":[-50,0,50],"format":"~r","title":null}}}},
   {"data":{"name":"b2"},"mark":{"type":"line","strokeWidth":1.4},"encoding":{
     "x":{"field":"r","type":"quantitative","scale":{"domain":[-1.5,101],"nice":false,"zero":false},"axis":{"values":[0,22.8,100],"labelExpr":"datum.value == 0 ? 'max' : (datum.value == 100 ? 'min' : 'flat')","title":null}},
     "y":{"field":"v","type":"quantitative","scale":{"domain":[-57,69],"nice":false,"zero":false},"axis":{"values":[-50,0,50],"format":"~r","title":null}},
     "strokeDash":{"field":"s","type":"nominal","scale":{"domain":["a","b"],"range":[[1,0],[6,3]]},"legend":null}}},
   {"data":{"values":[{"r":33.8,"v":49.1,"t":"Q = 0.25"}]},"mark":{"type":"text","align":"left","baseline":"middle","fontSize":15.5},"encoding":{
     "x":{"field":"r","type":"quantitative","axis":{"values":[0,22.8,100],"labelExpr":"datum.value == 0 ? 'max' : (datum.value == 100 ? 'min' : 'flat')","title":null}},
     "y":{"field":"v","type":"quantitative","axis":{"values":[-50,0,50],"format":"~r","title":null}},"text":{"field":"t"}}}
  ]},
 {"width":138,"height":140,
  "layer":[
   {"data":{"values":[{}]},"mark":{"type":"rule","strokeDash":[1,2.5],"strokeWidth":1.3},"encoding":{"y":{"datum":0,"type":"quantitative","scale":{"domain":[-77,105],"nice":false,"zero":false},"axis":{"values":[-50,0,50,100],"format":"~r","title":null}}}},
   {"data":{"name":"c2"},"mark":{"type":"line","strokeWidth":1.3},"encoding":{
     "x":{"field":"r","type":"quantitative","scale":{"domain":[-1.5,101],"nice":false,"zero":false},"axis":{"values":[0,75.4,100],"labelExpr":"datum.value == 0 ? 'max' : (datum.value == 100 ? 'min' : 'flat')","title":null}},
     "y":{"field":"v","type":"quantitative","scale":{"domain":[-77,105],"nice":false,"zero":false},"axis":{"values":[-50,0,50,100],"format":"~r","title":null}},
     "strokeDash":{"field":"s","type":"nominal","scale":{"domain":["a","b"],"range":[[1,0],[6,3]]},"legend":null}}},
   {"data":{"values":[{"r":36.1,"v":74,"t":"Q = 0.32"}]},"mark":{"type":"text","align":"left","baseline":"middle","fontSize":15.5},"encoding":{
     "x":{"field":"r","type":"quantitative","axis":{"values":[0,75.4,100],"labelExpr":"datum.value == 0 ? 'max' : (datum.value == 100 ? 'min' : 'flat')","title":null}},
     "y":{"field":"v","type":"quantitative","axis":{"values":[-50,0,50,100],"format":"~r","title":null}},"text":{"field":"t"}}}
  ]},
 {"width":138,"height":140,
  "layer":[
   {"data":{"values":[{}]},"mark":{"type":"rule","strokeDash":[1,2.5],"strokeWidth":1.3},"encoding":{"y":{"datum":0,"type":"quantitative","scale":{"domain":[-1.08,2.31],"nice":false,"zero":false},"axis":{"values":[-1,0,1,2],"format":"~r","title":"Weight (sp/s·dB)"}}}},
   {"data":{"name":"a3"},"mark":{"type":"line","strokeWidth":1.4},"encoding":{
     "x":{"field":"f","type":"quantitative","scale":{"type":"log","domain":[2,8.1],"nice":false},"axis":{"values":[2,4.75,8],"labelExpr":"format(datum.value, '~r')","title":"Frequency (kHz)","titlePadding":6}},
     "y":{"field":"v","type":"quantitative","scale":{"domain":[-1.08,2.31],"nice":false,"zero":false},"axis":{"values":[-1,0,1,2],"format":"~r","title":"Weight (sp/s·dB)"}},
     "strokeDash":{"field":"s","type":"nominal","scale":{"domain":["a","b"],"range":[[1,0],[6,3]]},"legend":null}}},
   {"data":{"name":"a3t"},"mark":{"type":"text","align":"left","baseline":"middle","fontSize":15.5},"encoding":{
     "x":{"field":"f","type":"quantitative","axis":{"values":[2,4.75,8],"labelExpr":"format(datum.value, '~r')","title":"Frequency (kHz)","titlePadding":6}},
     "y":{"field":"v","type":"quantitative","axis":{"values":[-1,0,1,2],"format":"~r","title":"Weight (sp/s·dB)"}},"text":{"field":"t"}}},
   {"data":{"values":[{"f":4.0,"v":1.98,"f2":4.6,"v2":1.86},{"f":3.26,"v":0.97,"f2":3.26,"v2":0.36}]},"mark":{"type":"rule","strokeWidth":1.2},"encoding":{
     "x":{"field":"f","type":"quantitative","axis":{"values":[2,4.75,8],"labelExpr":"format(datum.value, '~r')","title":"Frequency (kHz)","titlePadding":6}},
     "y":{"field":"v","type":"quantitative","axis":{"values":[-1,0,1,2],"format":"~r","title":"Weight (sp/s·dB)"}},"x2":{"field":"f2"},"y2":{"field":"v2"}}},
   {"data":{"values":[{"f":4.6,"v":1.86}]},"mark":{"type":"point","shape":"M0,0L-0.45,1L0.45,1Z","filled":true,"size":140,"opacity":1,"angle":110,"color":"#000"},"encoding":{
     "x":{"field":"f","type":"quantitative","axis":{"values":[2,4.75,8],"labelExpr":"format(datum.value, '~r')","title":"Frequency (kHz)","titlePadding":6}},
     "y":{"field":"v","type":"quantitative","axis":{"values":[-1,0,1,2],"format":"~r","title":"Weight (sp/s·dB)"}}}},
   {"data":{"values":[{"f":3.26,"v":0.36}]},"mark":{"type":"point","shape":"M0,0L-0.45,1L0.45,1Z","filled":true,"size":140,"opacity":1,"angle":180,"color":"#000"},"encoding":{
     "x":{"field":"f","type":"quantitative","axis":{"values":[2,4.75,8],"labelExpr":"format(datum.value, '~r')","title":"Frequency (kHz)","titlePadding":6}},
     "y":{"field":"v","type":"quantitative","axis":{"values":[-1,0,1,2],"format":"~r","title":"Weight (sp/s·dB)"}}}}
  ]},
 {"width":138,"height":140,
  "layer":[
   {"data":{"values":[{}]},"mark":{"type":"rule","strokeDash":[1,2.5],"strokeWidth":1.3},"encoding":{"y":{"datum":0,"type":"quantitative","scale":{"domain":[-0.53,1.12],"nice":false,"zero":false},"axis":{"values":[-0.5,0,0.5,1],"format":"~r","title":null}}}},
   {"data":{"name":"b3"},"mark":{"type":"line","strokeWidth":1.4},"encoding":{
     "x":{"field":"f","type":"quantitative","scale":{"type":"log","domain":[7,14.05],"nice":false},"axis":{"values":[7,9.5,14],"labelExpr":"format(datum.value, '~r')","title":null}},
     "y":{"field":"v","type":"quantitative","scale":{"domain":[-0.53,1.12],"nice":false,"zero":false},"axis":{"values":[-0.5,0,0.5,1],"format":"~r","title":null}},
     "strokeDash":{"field":"s","type":"nominal","scale":{"domain":["a","b"],"range":[[1,0],[6,3]]},"legend":null}}}
  ]},
 {"width":138,"height":140,
  "layer":[
   {"data":{"values":[{}]},"mark":{"type":"rule","strokeDash":[1,2.5],"strokeWidth":1.3},"encoding":{"y":{"datum":0,"type":"quantitative","scale":{"domain":[-1.14,1.13],"nice":false,"zero":false},"axis":{"values":[-1,-0.5,0,0.5,1],"format":"~r","title":null}}}},
   {"data":{"name":"c3"},"mark":{"type":"line","strokeWidth":1.3},"encoding":{
     "x":{"field":"f","type":"quantitative","scale":{"type":"log","domain":[2,32.2],"nice":false},"axis":{"values":[2,12.1,32],"labelExpr":"format(datum.value, '~r')","title":null}},
     "y":{"field":"v","type":"quantitative","scale":{"domain":[-1.14,1.13],"nice":false,"zero":false},"axis":{"values":[-1,-0.5,0,0.5,1],"format":"~r","title":null}},
     "strokeDash":{"field":"s","type":"nominal","scale":{"domain":["a","b"],"range":[[1,0],[6,3]]},"legend":null}}}
  ]}
]
}
